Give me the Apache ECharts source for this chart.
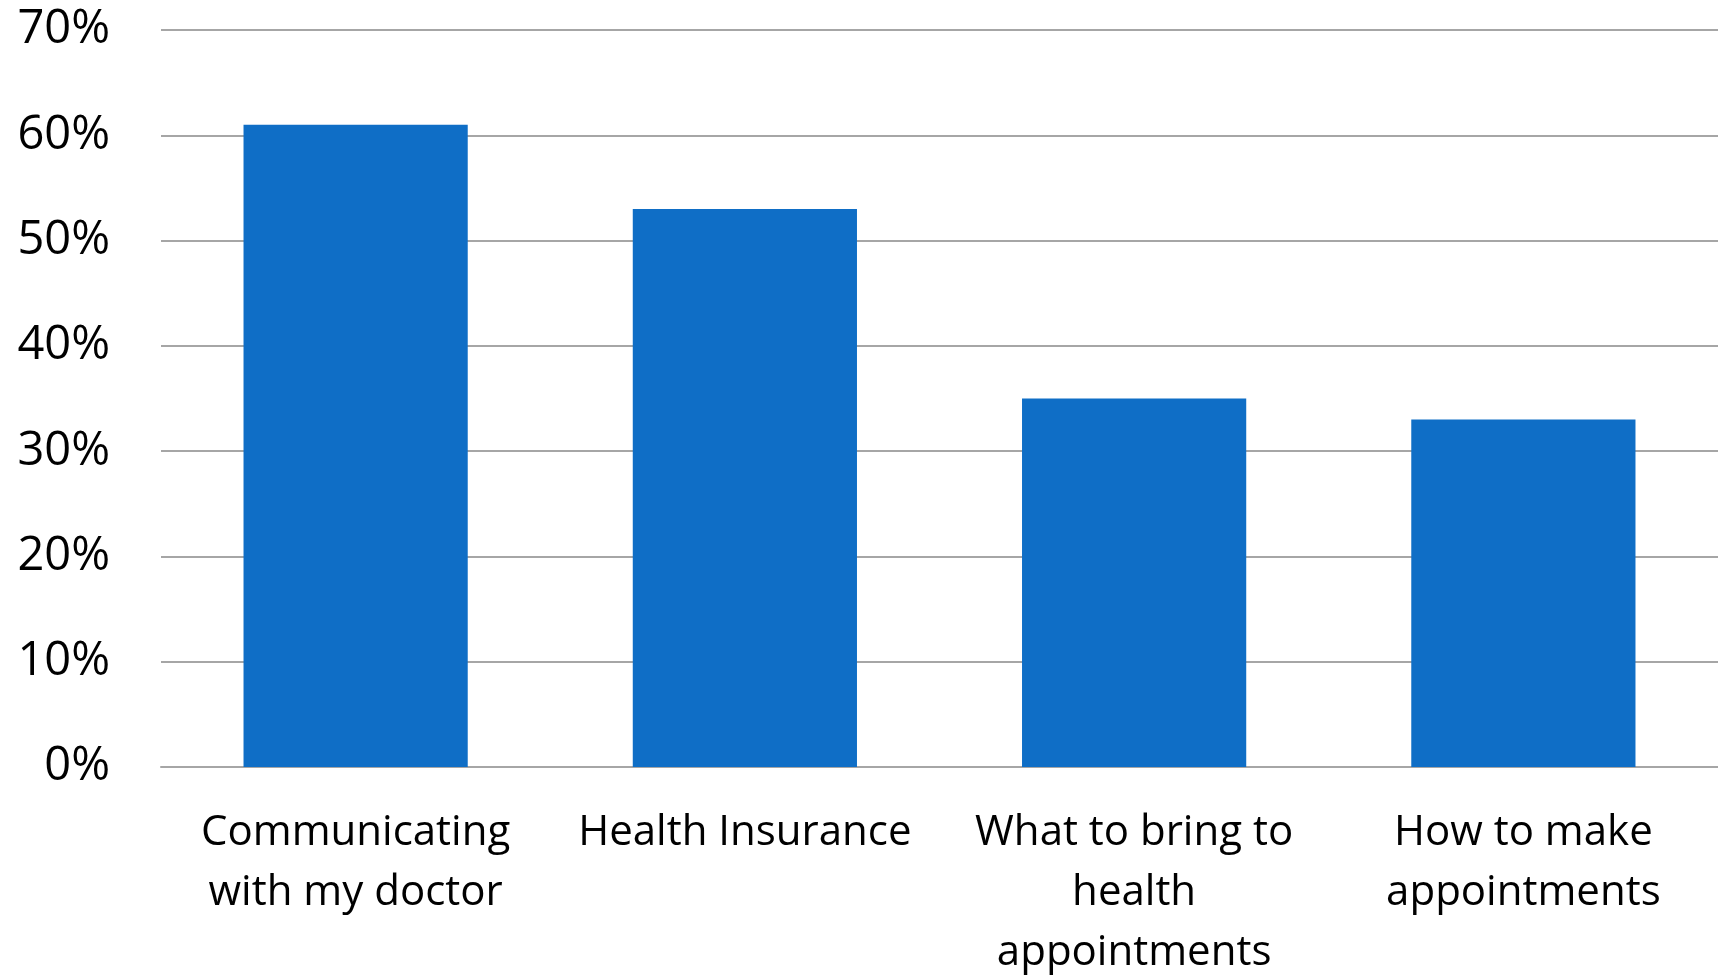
<!DOCTYPE html>
<html>
<head>
<meta charset="utf-8">
<script src="https://cdn.jsdelivr.net/npm/echarts@6/dist/echarts.min.js"></script>
<style>
html,body{margin:0;padding:0;background:#fff;}
#chart{width:1718px;height:977px;}
</style>
</head>
<body>
<div id="chart"></div>
<script>
const categories = [
  "Communicating\nwith my doctor",
  "Health Insurance",
  "What to bring to\nhealth\nappointments",
  "How to make\nappointments"
];
const values = [61, 53, 35, 33];
const yTicks = [0, 10, 20, 30, 40, 50, 60, 70];

const chart = echarts.init(document.getElementById('chart'), null, {renderer: 'canvas'});
chart.setOption({
  backgroundColor: '#ffffff',
  animation: false,
  grid: {left: 161, right: 0, top: 30, bottom: 210, containLabel: false, outerBoundsMode: 'none'},
  xAxis: {
    type: 'category',
    data: categories,
    axisLine: {show: true, lineStyle: {color: '#a6a6a6', width: 2}},
    axisTick: {show: false},
    axisLabel: {
      interval: 0,
      color: '#000000',
      fontFamily: 'Open Sans',
      fontSize: 42,
      lineHeight: 60,
      margin: 36
    }
  },
  yAxis: {
    type: 'value',
    min: yTicks[0],
    max: yTicks[yTicks.length - 1],
    interval: 10,
    axisLine: {show: false},
    axisTick: {show: false},
    splitLine: {lineStyle: {color: '#a6a6a6', width: 2}},
    axisLabel: {
      color: '#000000',
      fontFamily: 'Open Sans',
      fontSize: 47,
      margin: 51,
      formatter: v => v + '%'
    }
  },
  series: [{
    type: 'bar',
    data: values,
    barWidth: '57.6%',
    itemStyle: {color: '#0F6EC6'}
  }]
});
</script>
</body>
</html>
